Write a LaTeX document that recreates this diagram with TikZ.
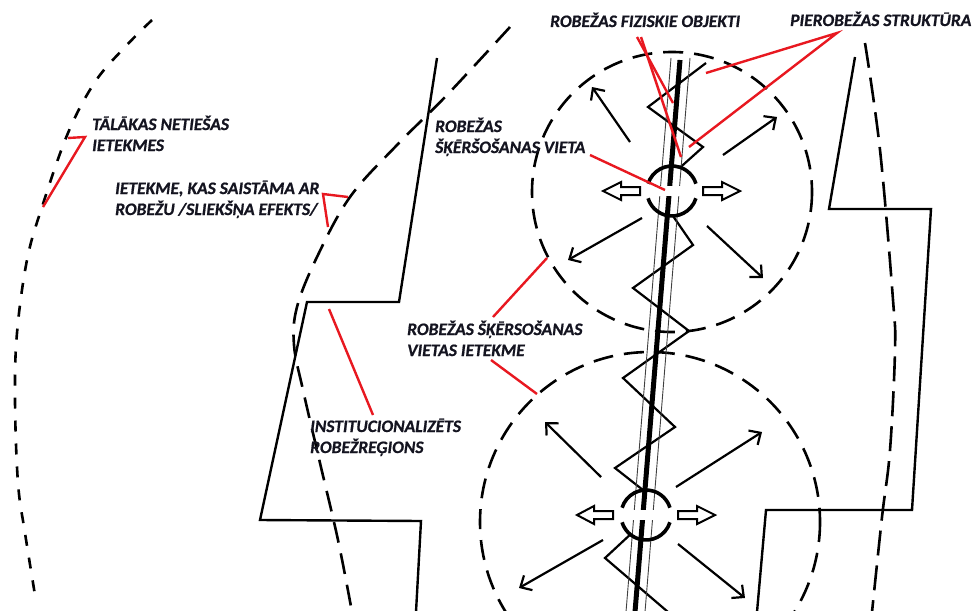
\documentclass[tikz,border=0pt]{standalone}
\usepackage{fontspec}
\setmainfont{Carlito}[BoldItalicFeatures={FakeBold=0.8}]
\usetikzlibrary{arrows.meta,calc}
\definecolor{callred}{RGB}{232,24,32}
\definecolor{lbltext}{RGB}{20,20,32}
\begin{document}
\begin{tikzpicture}[x=1pt,y=-1pt,
  lbl/.style={font=\fontsize{17.5}{21}\selectfont\bfseries\itshape, anchor=base west, inner sep=0pt, align=left, text=lbltext},
  callout/.style={draw=callred, line width=2.4pt, line join=miter, line cap=butt},
  solidb/.style={draw=black, line width=2.4pt, line join=miter},
  outerdash/.style={draw=black, line width=2.6pt, dash pattern=on 11pt off 12pt},
  middash/.style={draw=black, line width=2.6pt, dash pattern=on 21pt off 11pt},
  rightdash/.style={draw=black, line width=2.6pt, dash pattern=on 25pt off 10pt},
  bigdash/.style={draw=black, line width=2.6pt, dash pattern=on 20pt off 11pt},
  radarrow/.style={draw=black, line width=2.2pt, -{Straight Barb[length=9pt, width=17pt]}},
  zig/.style={draw=black, line width=2.2pt, line join=miter},
  thinl/.style={draw=black!75, line width=0.9pt},
  thickl/.style={draw=black, line width=5pt},
  ring/.style={draw=black, line width=3.6pt},
  hollow/.style={draw=black, line width=2pt, fill=white, line join=miter}
]
\useasboundingbox (0,0) rectangle (973,610);
\clip (0,0) rectangle (973,610);
\fill[white] (0,0) rectangle (973,610);

% key coordinates
\coordinate (c1) at (672,191);
\coordinate (c2) at (646,515);
\coordinate (bc1) at (672,192);
\coordinate (bc2) at (650,522);

% outer left dashed arc
\draw[outerdash] plot[smooth, tension=0.6] coordinates {(152,20) (125,47) (95,82) (68,133) (42,207) (27,260) (17,333) (15,400) (18,483) (25,533) (35,595)};
% middle-left dashed arc
\draw[middash] plot[smooth, tension=0.6] coordinates {(510,27) (447,95) (397,145) (350,197) (317,257) (297,307) (294,345) (303,390) (320,463) (338,540) (352,612)};
% right dashed arc
\draw[rightdash] plot[smooth, tension=0.6] coordinates {(865,43) (880,150) (893,300) (895,350) (890,450) (882,517) (872,612)};

% solid border region outlines
\draw[solidb] (437,58) -- (399,302) -- (307,302) -- (260,520) -- (421,521) -- (416,612);
\draw[solidb] (855,57) -- (829,209) -- (931,209) -- (912,510) -- (766,510) -- (757,612);

% big dashed influence circles
\draw[bigdash] (bc1) circle[radius=140];
\draw[bigdash] (bc2) circle[radius=170];

% radial arrows, upper
\draw[radarrow] (630,142) -- (592,87);
\draw[radarrow] (723,155) -- (777,117);
\draw[radarrow] (642,218) -- (568,260);
\draw[radarrow] (707,226) -- (763,278);
% radial arrows, lower
\draw[radarrow] (601,477) -- (545,422);
\draw[radarrow] (676,487) -- (762,432);
\draw[radarrow] (603,540) -- (519,588);
\draw[radarrow] (678,544) -- (745,598);

% zigzag (border-adjacent structure)
\draw[zig] (706,63) -- (648,107) -- (703,147) -- (655,190) -- (693,245) -- (633,288) -- (689,331) -- (623,378) -- (675,427) -- (615,468) -- (662,505) -- (605,558) -- (668,612);

% crossing points: white interiors
\fill[white] (c1) circle[radius=24];
\fill[white] (c2) circle[radius=24];

% border line with thin companions
\draw[thinl] (671,58) -- (626,612);
\draw[thinl] (690,58) -- (645,612);
\draw[thickl] (680,60) -- (635,612);

% white gaps across centres
\fill[white] ($(c1)+(-22,-5)$) rectangle ($(c1)+(22,5)$);
\fill[white] ($(c2)+(-22,-5)$) rectangle ($(c2)+(22,5)$);

% rings with side gaps
\foreach \c in {c1,c2}{
  \draw[ring] (\c) ++(17:25) arc[start angle=17, end angle=163, radius=25];
  \draw[ring] (\c) ++(197:25) arc[start angle=197, end angle=343, radius=25];
}

% hollow arrows
\draw[hollow, shift={(c1)}] (-32,-4) -- (-51,-4) -- (-51,-9) -- (-69,0) -- (-51,9) -- (-51,4) -- (-32,4) -- cycle;
\draw[hollow, shift={(c1)}] (31,-4) -- (50,-4) -- (50,-9) -- (68,0) -- (50,9) -- (50,4) -- (31,4) -- cycle;
\draw[hollow, shift={(c2)}] (-33,-4) -- (-52,-4) -- (-52,-9) -- (-69,0) -- (-52,9) -- (-52,4) -- (-33,4) -- cycle;
\draw[hollow, shift={(c2)}] (32,-4) -- (51,-4) -- (51,-9) -- (69,0) -- (51,9) -- (51,4) -- (32,4) -- cycle;

% labels (anchor = baseline of the last line)
\node[lbl] (lfiz) at (550,27) {ROBEŽAS FIZISKIE OBJEKTI};
\node[lbl] (lpie) at (790,26) {PIEROBEŽAS STRUKTŪRA};
\node[lbl] (ltal) at (92,151) {TĀLĀKAS NETIEŠAS\\IETEKMES};
\node[lbl] (liet) at (115,215) {IETEKME, KAS SAISTĀMA AR\\ROBEŽU /SLIEKŠŅA EFEKTS/};
\node[lbl] (lvie) at (435,153) {ROBEŽAS\\ŠĶĒRŠOŠANAS VIETA};
\node[lbl] (lvii) at (407,356) {ROBEŽAS ŠĶĒRSOŠANAS\\VIETAS IETEKME};
\node[lbl] (lins) at (310,453) {INSTITUCIONALIZĒTS\\ROBEŽREĢIONS};

% callout anchor points
\coordinate (fizA) at (637,37);
\coordinate (fizB) at (641,37);
\coordinate (fizT1) at (673,103);
\coordinate (fizT2) at (681,157);
\coordinate (pieA) at (837,33);
\coordinate (pieT1) at (706,73);
\coordinate (pieT2) at (689,147);
\coordinate (vieA) at (590,155);
\coordinate (vieT) at (665,190);
\coordinate (talA) at (68,138);
\coordinate (talK) at (85,137);
\coordinate (talT) at (43,207);
\coordinate (ietA) at (348,197);
\coordinate (ietK) at (323,194);
\coordinate (ietT) at (328,227);
\coordinate (insA) at (329,309);
\coordinate (insT) at (373,415);
\coordinate (viiA) at (493,317);
\coordinate (viiT1) at (547,258);
\coordinate (viiB) at (491,360);
\coordinate (viiT2) at (537,394);

% red callouts
\draw[callout] (fizA) -- (fizT1);
\draw[callout] (fizB) -- (fizT2);
\draw[callout] (pieT1) -- (pieA) -- (pieT2);
\draw[callout] (vieA) -- (vieT);
\draw[callout] (talA) -- (talK) -- (talT);
\draw[callout] (ietA) -- (ietK) -- (ietT);
\draw[callout] (insA) -- (insT);
\draw[callout] (viiA) -- (viiT1);
\draw[callout] (viiB) -- (viiT2);
\end{tikzpicture}
\end{document}
